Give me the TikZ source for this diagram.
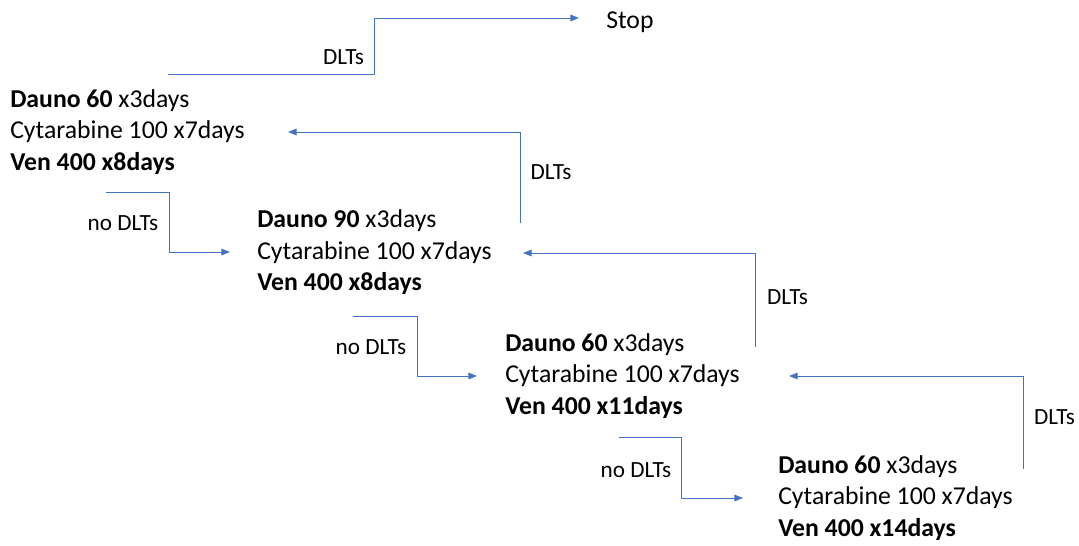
\documentclass[tikz,border=0pt]{standalone}
\usepackage{fontspec}
\setmainfont{Carlito}
\usetikzlibrary{arrows.meta}
\definecolor{lineblue}{HTML}{4472C4}
\newcommand{\dosesz}{\fontsize{19.3pt}{23.6pt}\selectfont}
\newcommand{\lblsz}{\fontsize{17.4pt}{20pt}\selectfont}
\tikzset{
  dose/.style={font=\dosesz, inner sep=0pt, anchor=base west},
  lbl/.style={font=\lblsz, inner sep=0pt},
  conn/.style={draw=lineblue, line width=0.75pt},
  arr/.style={conn, -{Triangle[length=6.5pt,width=5pt]}}
}
\begin{document}
\begin{tikzpicture}[x=0.75pt,y=-0.75pt]
\useasboundingbox (0,0) rectangle (1079,546);

% dose levels, one line per node
\node[dose] (b1a) at (10,107)   {\textbf{Dauno 60} x3days};
\node[dose] (b1b) at (10,138.5) {Cytarabine 100 x7days};
\node[dose] (b1c) at (10,170)   {\textbf{Ven 400 x8days}};

\node[dose] (b2a) at (257,227.5) {\textbf{Dauno 90} x3days};
\node[dose] (b2b) at (257,259)   {Cytarabine 100 x7days};
\node[dose] (b2c) at (257,290.5) {\textbf{Ven 400 x8days}};

\node[dose] (b3a) at (505,351)   {\textbf{Dauno 60} x3days};
\node[dose] (b3b) at (505,382.5) {Cytarabine 100 x7days};
\node[dose] (b3c) at (505,414)   {\textbf{Ven 400 x11days}};

\node[dose] (b4a) at (778,473)   {\textbf{Dauno 60} x3days};
\node[dose] (b4b) at (778,504.5) {Cytarabine 100 x7days};
\node[dose] (b4c) at (778,536)   {\textbf{Ven 400 x14days}};

\node[dose] (stop) at (606,28) {Stop};

% decision labels
\node[lbl] (l0) at (343.5,57) {DLTs};
\node[lbl] (l1) at (551,172)  {DLTs};
\node[lbl] (l2) at (787.5,297) {DLTs};
\node[lbl] (l3) at (1054.5,417) {DLTs};
\node[lbl] (n1) at (123,223) {no DLTs};
\node[lbl] (n2) at (371,347) {no DLTs};
\node[lbl] (n3) at (636,470) {no DLTs};

% connector end points and corners
\coordinate (c0a) at (168,74);
\coordinate (c0b) at (374,74);
\coordinate (c0c) at (374,18);
\coordinate (c0d) at (579,18);

\coordinate (c1a) at (520,223);
\coordinate (c1b) at (520,132);
\coordinate (c1c) at (288,132);

\coordinate (c2a) at (755,347);
\coordinate (c2b) at (755,253);
\coordinate (c2c) at (523,253);

\coordinate (c3a) at (1023,469);
\coordinate (c3b) at (1023,376);
\coordinate (c3c) at (789,376);

\coordinate (d1a) at (106,192);
\coordinate (d1b) at (169,192);
\coordinate (d1c) at (169,252);
\coordinate (d1d) at (230,252);

\coordinate (d2a) at (353,316);
\coordinate (d2b) at (417,316);
\coordinate (d2c) at (417,376);
\coordinate (d2d) at (477,376);

\coordinate (d3a) at (619,437);
\coordinate (d3b) at (681,437);
\coordinate (d3c) at (681,498);
\coordinate (d3d) at (743,498);

% DLTs: step back down (or stop)
\draw[arr] (c0a) -- (c0b) -- (c0c) -- (c0d);
\draw[arr] (c1a) -- (c1b) -- (c1c);
\draw[arr] (c2a) -- (c2b) -- (c2c);
\draw[arr] (c3a) -- (c3b) -- (c3c);

% no DLTs: escalate to next level
\draw[arr] (d1a) -- (d1b) -- (d1c) -- (d1d);
\draw[arr] (d2a) -- (d2b) -- (d2c) -- (d2d);
\draw[arr] (d3a) -- (d3b) -- (d3c) -- (d3d);
\end{tikzpicture}
\end{document}
